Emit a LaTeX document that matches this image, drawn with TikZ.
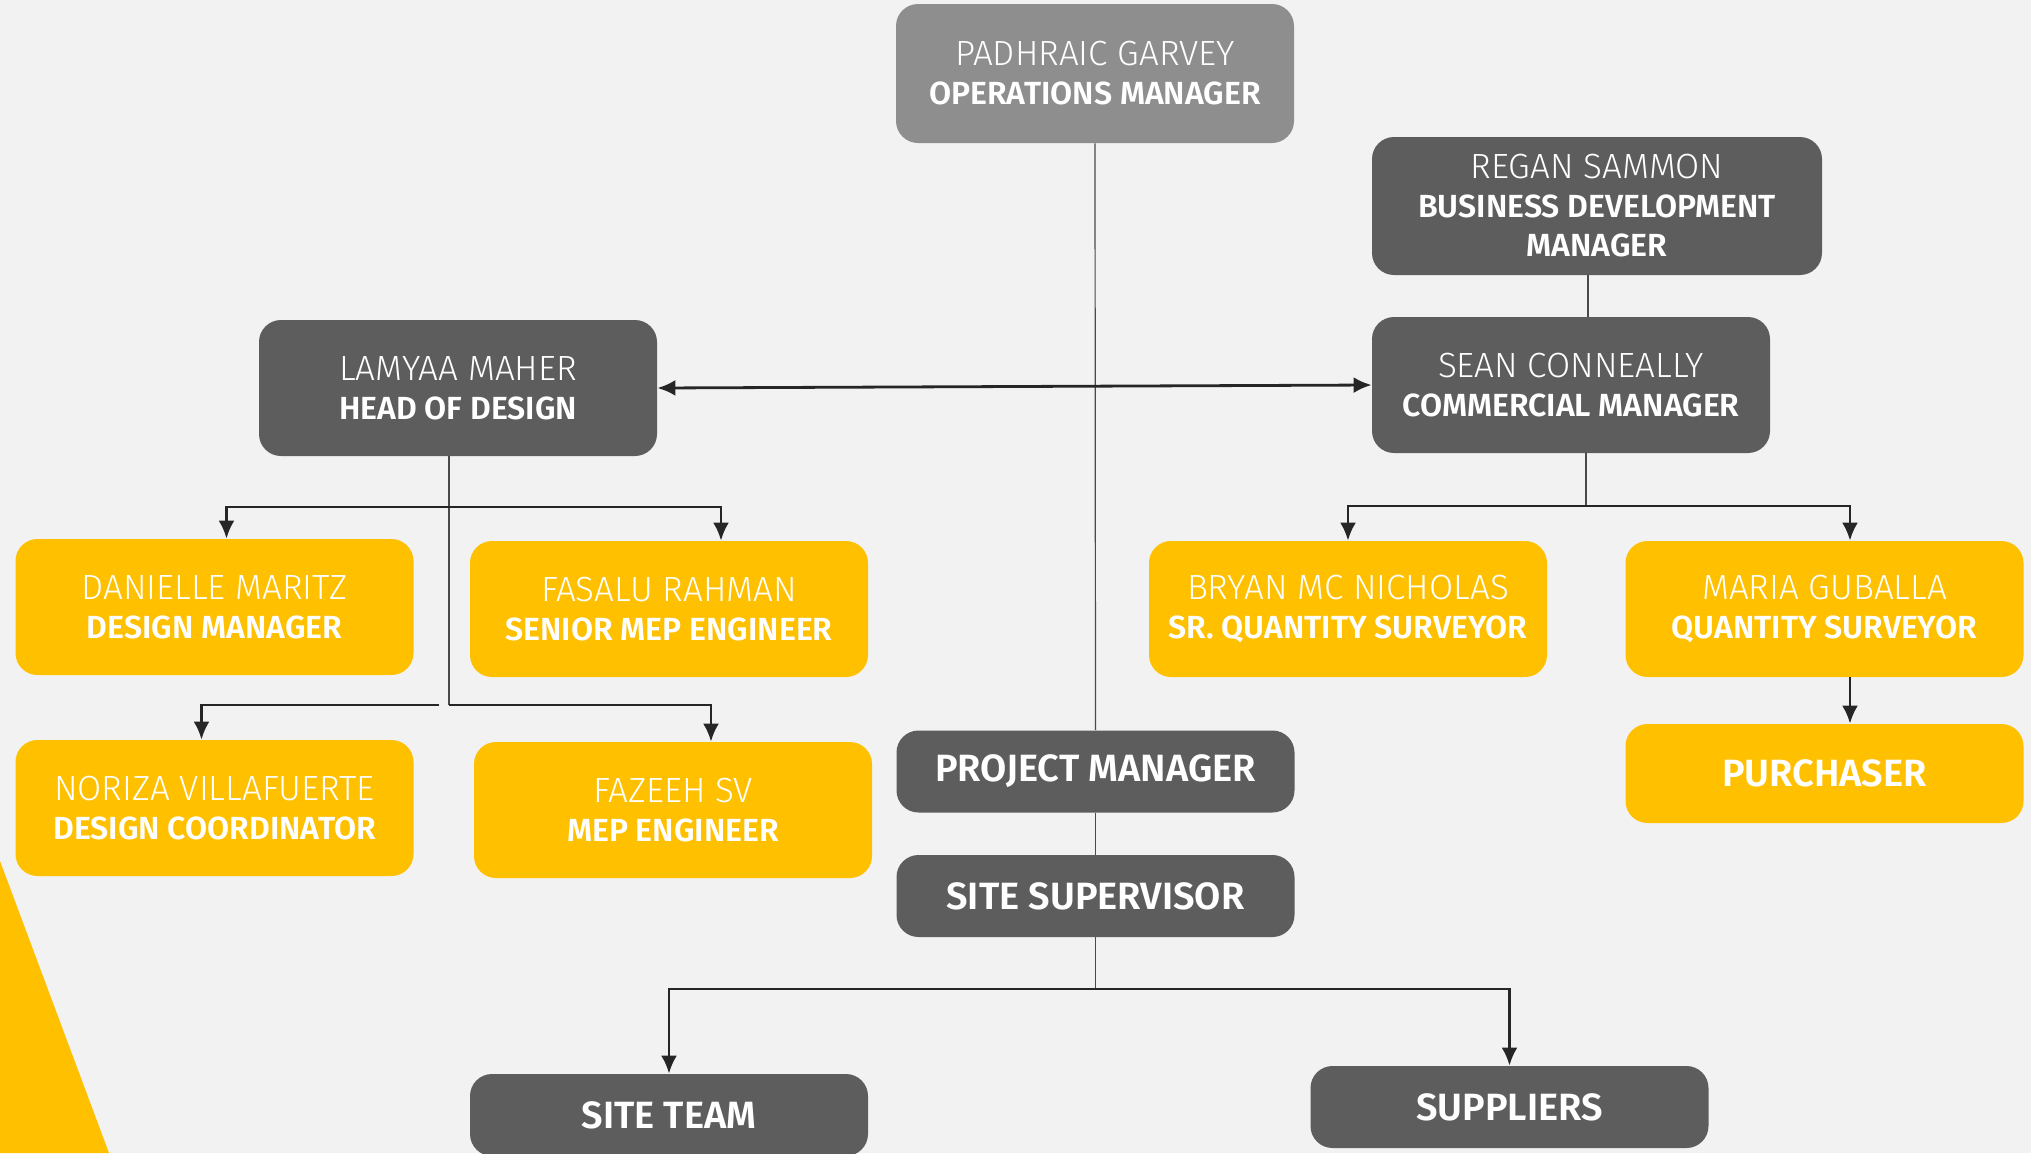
\documentclass[tikz,border=0pt]{standalone}
\usepackage{fontspec}
\setmainfont{Fira Sans}[UprightFont=* Light, BoldFont=* SemiBold]
\usetikzlibrary{arrows.meta,calc}
\definecolor{bgcol}{HTML}{F2F2F2}
\definecolor{darkcol}{HTML}{5D5D5D}
\definecolor{topcol}{HTML}{8E8E8E}
\definecolor{yelcol}{HTML}{FFC000}
\definecolor{linecol}{HTML}{262626}
\newcommand{\rolename}[1]{{\fontsize{16}{19.5}\selectfont\bfseries #1}}
\tikzset{
  box/.style={rounded corners=11pt, text=white, align=center, inner sep=0pt,
    minimum width=199pt, minimum height=68pt, font=\fontsize{17.5}{19.5}\selectfont},
  darkbox/.style={box, fill=darkcol},
  yelbox/.style={box, fill=yelcol},
  flatbox/.style={box, minimum height=41pt, font=\fontsize{19}{22}\selectfont\bfseries},
  thinline/.style={draw=darkcol!80!black, line width=0.6pt},
  busline/.style={draw=linecol, line width=1.4pt},
  tip/.style={-{Latex[length=9pt,width=8pt]}}
}
\begin{document}
\begin{tikzpicture}[x=0.5pt, y=-0.5pt]
  \useasboundingbox (0,0) rectangle (2031,1153);
  \clip (0,0) rectangle (2031,1153);
  \fill[bgcol] (0,0) rectangle (2031,1153);
  \fill[yelcol] (0,861) -- (109,1153) -- (0,1153) -- cycle;

  \node[box, fill=topcol, minimum height=69.5pt] (padhraic) at (1095,73.5) {PADHRAIC GARVEY\\\rolename{OPERATIONS MANAGER}};
  \node[darkbox, minimum width=225pt, minimum height=69pt] (regan) at (1597,206) {REGAN SAMMON\\\rolename{BUSINESS DEVELOPMENT}\\\rolename{MANAGER}};
  \node[darkbox] (sean) at (1571,385) {SEAN CONNEALLY\\\rolename{COMMERCIAL MANAGER}};
  \node[darkbox] (lamyaa) at (458,388) {LAMYAA MAHER\\\rolename{HEAD OF DESIGN}};
  \node[yelbox] (danielle) at (214.5,607) {DANIELLE MARITZ\\\rolename{DESIGN MANAGER}};
  \node[yelbox] (fasalu) at (669,609) {FASALU RAHMAN\\\rolename{SENIOR MEP ENGINEER}};
  \node[yelbox] (noriza) at (214.5,808) {NORIZA VILLAFUERTE\\\rolename{DESIGN COORDINATOR}};
  \node[yelbox] (fazeeh) at (673,810) {FAZEEH SV\\\rolename{MEP ENGINEER}};
  \node[yelbox] (bryan) at (1348,609) {BRYAN MC NICHOLAS\\\rolename{SR. QUANTITY SURVEYOR}};
  \node[yelbox] (maria) at (1824.5,609) {MARIA GUBALLA\\\rolename{QUANTITY SURVEYOR}};
  \node[yelbox, flatbox, minimum height=49.5pt] (purchaser) at (1824.5,773.5) {PURCHASER};
  \node[darkbox, flatbox] (pm) at (1095.5,771.5) {PROJECT MANAGER};
  \node[darkbox, flatbox] (ss) at (1095.5,896) {SITE SUPERVISOR};
  \node[darkbox, flatbox] (siteteam) at (669,1115) {SITE TEAM};
  \node[darkbox, flatbox] (suppliers) at (1509.5,1107) {SUPPLIERS};

  \coordinate (dsplit) at (449,507);
  \coordinate (csplit) at (449,705);
  \coordinate (rsline) at (1588,0);
  \coordinate (csplit2) at (1586,506);
  \coordinate (ssplit) at (1095.5,989);

  \draw[thinline] (padhraic.south) -- (pm.north);
  \draw[thinline] (pm.south) -- (ss.north);
  \draw[thinline] (ss.south) -- (ssplit);
  \draw[busline, tip] (ssplit) -| (siteteam.north);
  \draw[busline, tip] (ssplit) -| (suppliers.north);

  \draw[thinline] (regan.south -| rsline) -- (sean.north -| rsline);
  \draw[busline, {Latex[length=9pt,width=8pt]}-{Latex[length=9pt,width=8pt]}] (lamyaa.east) -- (sean.west);
  \draw[thinline] (sean.south -| csplit2) -- (csplit2);
  \draw[busline, tip] (csplit2) -| (bryan.north);
  \draw[busline, tip] (csplit2) -| ($(maria.north)+(25.5,0)$);
  \draw[busline, tip] ($(maria.south)+(25.5,0)$) -- ($(purchaser.north)+(25.5,0)$);

  \draw[thinline] (lamyaa.south -| dsplit) -- (csplit);
  \draw[busline, tip] (dsplit) -| ($(danielle.north)+(12,0)$);
  \draw[busline, tip] (dsplit) -| ($(fasalu.north)+(52,0)$);
  \draw[busline, tip] ($(csplit)+(-10,0)$) -| ($(noriza.north)+(-13,0)$);
  \draw[busline, tip] (csplit) -| ($(fazeeh.north)+(38,0)$);
\end{tikzpicture}
\end{document}
